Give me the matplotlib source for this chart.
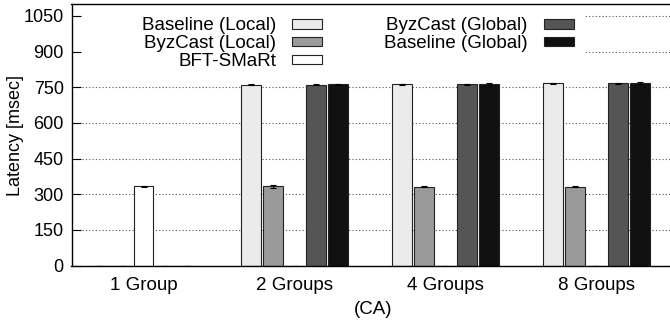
import matplotlib
matplotlib.use("Agg")
import matplotlib.pyplot as plt
from matplotlib.patches import Rectangle
import numpy as np

plt.rcParams['font.family'] = ['Liberation Sans', 'DejaVu Sans']

groups = ["1 Group", "2 Groups", "4 Groups", "8 Groups"]
series = ["Baseline (Local)", "ByzCast (Local)", "BFT-SMaRt", "ByzCast (Global)", "Baseline (Global)"]
baseline_local = [0, 761, 763, 767]
byzcast_local = [0, 333, 332, 332]
bft_smart = [333, 0, 0, 0]
byzcast_global = [0, 761, 763, 767]
baseline_global = [0, 762, 764, 768]
err_baseline_local = [0, 2, 2, 2]
err_byzcast_local = [0, 6, 1, 1]
err_bft_smart = [1, 0, 0, 0]
err_byzcast_global = [0, 2, 2, 2]
err_baseline_global = [0, 3, 4, 3]
values = [baseline_local, byzcast_local, bft_smart, byzcast_global, baseline_global]
errors = [err_baseline_local, err_byzcast_local, err_bft_smart, err_byzcast_global, err_baseline_global]
colors = ["#ebebeb", "#9a9a9a", "#ffffff", "#555555", "#111111"]
yticks = [0, 150, 300, 450, 600, 750, 900, 1050]

W, H = 670, 328
fig = plt.figure(figsize=(W / 100, H / 100), dpi=100)
left, right, top, bottom = 71.5, 675, 4, 265.5
ax = fig.add_axes([left / W, 1 - bottom / H, (right - left) / W, (bottom - top) / H])

x = np.arange(len(groups))
slot = 1 / 7
bw = 0.132
for i, (vals, errs, c, name) in enumerate(zip(values, errors, colors, series)):
    pos = x + (i - 2) * slot
    ax.bar(pos, vals, width=bw, color=c, edgecolor="#222222", linewidth=0.8, label=name,
           yerr=errs, error_kw=dict(ecolor="black", elinewidth=0.8, capsize=2.5, capthick=0.8),
           zorder=2)

ax.set_xlim(-0.477, 3.52)
ax.set_ylim(0, 1100)
ax.set_yticks(yticks)
ax.set_xticks(x)
ax.set_xticklabels(groups)
ax.tick_params(axis='y', direction='in', length=6.5, width=0.8, pad=5.5, labelsize=13)
ax.tick_params(axis='x', length=0, pad=8, labelsize=13.5)
ax.set_axisbelow(True)
ax.yaxis.grid(True, linestyle=(0, (1, 2)), color="#555555", linewidth=0.8)
for s in ["left", "bottom", "top"]:
    ax.spines[s].set_linewidth(1.0)
ax.spines["right"].set_visible(False)

# white background behind the key (hides grid under it)
ax.add_patch(Rectangle((0.018, 0.75), 0.833, 0.245, transform=ax.transAxes,
                       facecolor="white", edgecolor="none", zorder=1.5))

leg = ax.legend(loc="upper right", bbox_to_anchor=(583 / W, 1 - 8 / H),
                bbox_transform=fig.transFigure, ncol=2, markerfirst=False,
                frameon=False, fontsize=13.5, borderpad=0, handlelength=1.6,
                handleheight=0.42, handletextpad=0.85, columnspacing=3.3,
                labelspacing=0.05)

fig.text(16 / W, 1 - 135 / H, "Latency [msec]", rotation=90, ha="center", va="center", fontsize=13)
fig.text(373 / W, 1 - 310 / H, "(CA)", ha="center", va="center", fontsize=13.5)

fig.savefig("out.png", dpi=100)
